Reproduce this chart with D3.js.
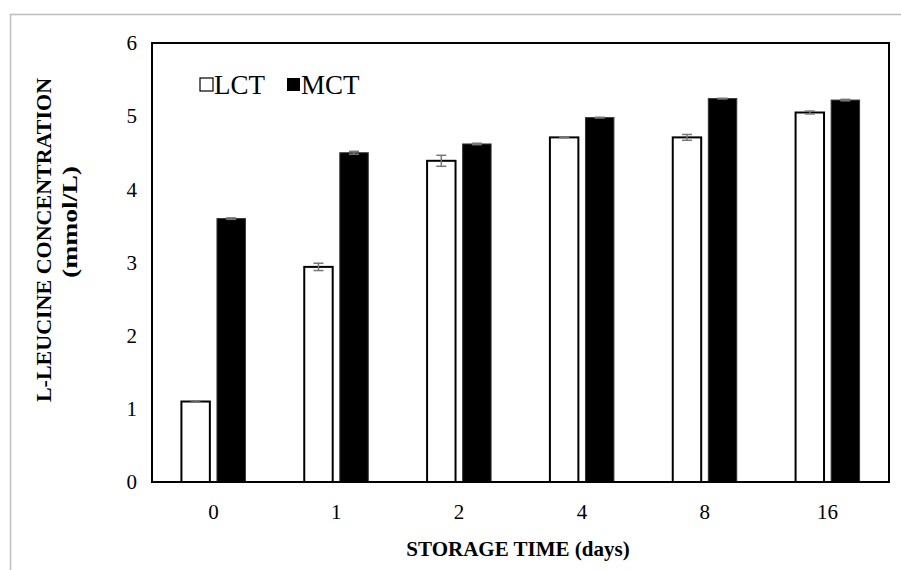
<!DOCTYPE html>
<html><head><meta charset="utf-8">
<script src="https://cdn.jsdelivr.net/npm/d3@7"></script>
<style>body{margin:0;background:#fff}svg{display:block}</style>
</head><body>
<svg id="c" width="901" height="570"></svg>
<script>
const categories = ["0","1","2","4","8","16"];
const seriesNames = ["LCT","MCT"];
const lctValues = [1.10, 2.94, 4.39, 4.71, 4.71, 5.05];
const lctErrors = [0.01, 0.05, 0.075, 0.005, 0.04, 0.02];
const mctValues = [3.60, 4.50, 4.62, 4.98, 5.24, 5.22];
const mctErrors = [0.01, 0.02, 0.01, 0.005, 0.005, 0.01];
const yTicks = [0,1,2,3,4,5,6];

const svg = d3.select("#c");
const font = "Liberation Serif, DejaVu Serif, serif";
const m = {l:152, r:889, t:43, b:482};

// outer gray frame
svg.append("rect").attr("x",10.5).attr("y",14.5).attr("width",1000).attr("height",1000)
  .attr("fill","none").attr("stroke","#bdbdbd").attr("stroke-width",1.5);

const x = d3.scaleBand().domain(categories).range([m.l,m.r]).paddingInner(0).paddingOuter(0);
const y = d3.scaleLinear().domain([0,6]).range([m.b,m.t]);
const sub = d3.scaleBand().domain(seriesNames).range([0,64]).paddingInner(0.2);
const off = (x.bandwidth()-64)/2;

const yAxis = d3.axisLeft(y).tickValues(yTicks).tickFormat(d3.format("d")).tickSize(0).tickPadding(15);
svg.append("g").attr("transform",`translate(${m.l},0)`).call(yAxis)
  .call(g=>g.select(".domain").remove())
  .selectAll("text").style("font-family",font).style("font-size","21px").attr("fill","#000");

const xAxis = d3.axisBottom(x).tickSize(0).tickPadding(22);
svg.append("g").attr("transform",`translate(0,${m.b})`).call(xAxis)
  .call(g=>g.select(".domain").remove())
  .selectAll("text").style("font-family",font).style("font-size","21px").attr("fill","#000");

const data = categories.map((c,i)=>({c, vals:[
  {s:"LCT", v:lctValues[i], e:lctErrors[i]},
  {s:"MCT", v:mctValues[i], e:mctErrors[i]}]}));

const groups = svg.append("g").selectAll("g").data(data).join("g")
  .attr("transform",d=>`translate(${x(d.c)+off},0)`);

groups.selectAll("rect").data(d=>d.vals).join("rect")
  .attr("x",d=>sub(d.s)).attr("width",sub.bandwidth())
  .attr("y",d=>y(d.v)).attr("height",d=>y(0)-y(d.v))
  .attr("fill",d=>d.s==="LCT"?"#fff":"#000")
  .attr("stroke",d=>d.s==="LCT"?"#000":"#333")
  .attr("stroke-width",d=>d.s==="LCT"?2:1);

// error bars
const eb = groups.selectAll("g.eb").data(d=>d.vals).join("g").attr("class","eb")
  .attr("stroke","#777").attr("stroke-width",1.5);
const cx = d=>sub(d.s)+sub.bandwidth()/2;
eb.append("line").attr("x1",cx).attr("x2",cx)
  .attr("y1",d=>y(d.v+d.e)).attr("y2",d=>y(d.v-d.e));
eb.append("line").attr("x1",d=>cx(d)-5).attr("x2",d=>cx(d)+5)
  .attr("y1",d=>y(d.v+d.e)).attr("y2",d=>y(d.v+d.e));
eb.append("line").attr("x1",d=>cx(d)-5).attr("x2",d=>cx(d)+5)
  .attr("y1",d=>y(d.v-d.e)).attr("y2",d=>y(d.v-d.e));

// plot frame
svg.append("rect").attr("x",m.l).attr("y",m.t).attr("width",m.r-m.l).attr("height",m.b-m.t)
  .attr("fill","none").attr("stroke","#000").attr("stroke-width",2);

// legend
const leg = svg.append("g");
leg.append("rect").attr("x",200).attr("y",78).attr("width",13).attr("height",13)
  .attr("fill","#fff").attr("stroke","#000").attr("stroke-width",1.2);
leg.append("text").attr("x",214).attr("y",94).style("font-family",font).style("font-size","27px").text(seriesNames[0]);
leg.append("rect").attr("x",287).attr("y",78).attr("width",13).attr("height",13).attr("fill","#000");
leg.append("text").attr("x",301).attr("y",94).style("font-family",font).style("font-size","27px").text(seriesNames[1]);

// axis titles
svg.append("text").attr("transform","translate(51,240) rotate(-90)").attr("text-anchor","middle")
  .style("font-family",font).style("font-size","22px").attr("font-weight","bold").text("L-LEUCINE CONCENTRATION");
svg.append("text").attr("transform","translate(77,222) rotate(-90)").attr("text-anchor","middle")
  .style("font-family",font).style("font-size","22px").attr("font-weight","bold")
  .attr("textLength",112).attr("lengthAdjust","spacingAndGlyphs").text("(mmol/L)");
svg.append("text").attr("x",518).attr("y",556).attr("text-anchor","middle")
  .style("font-family",font).style("font-size","21px").attr("font-weight","bold").text("STORAGE TIME (days)");
</script>
</body></html>
